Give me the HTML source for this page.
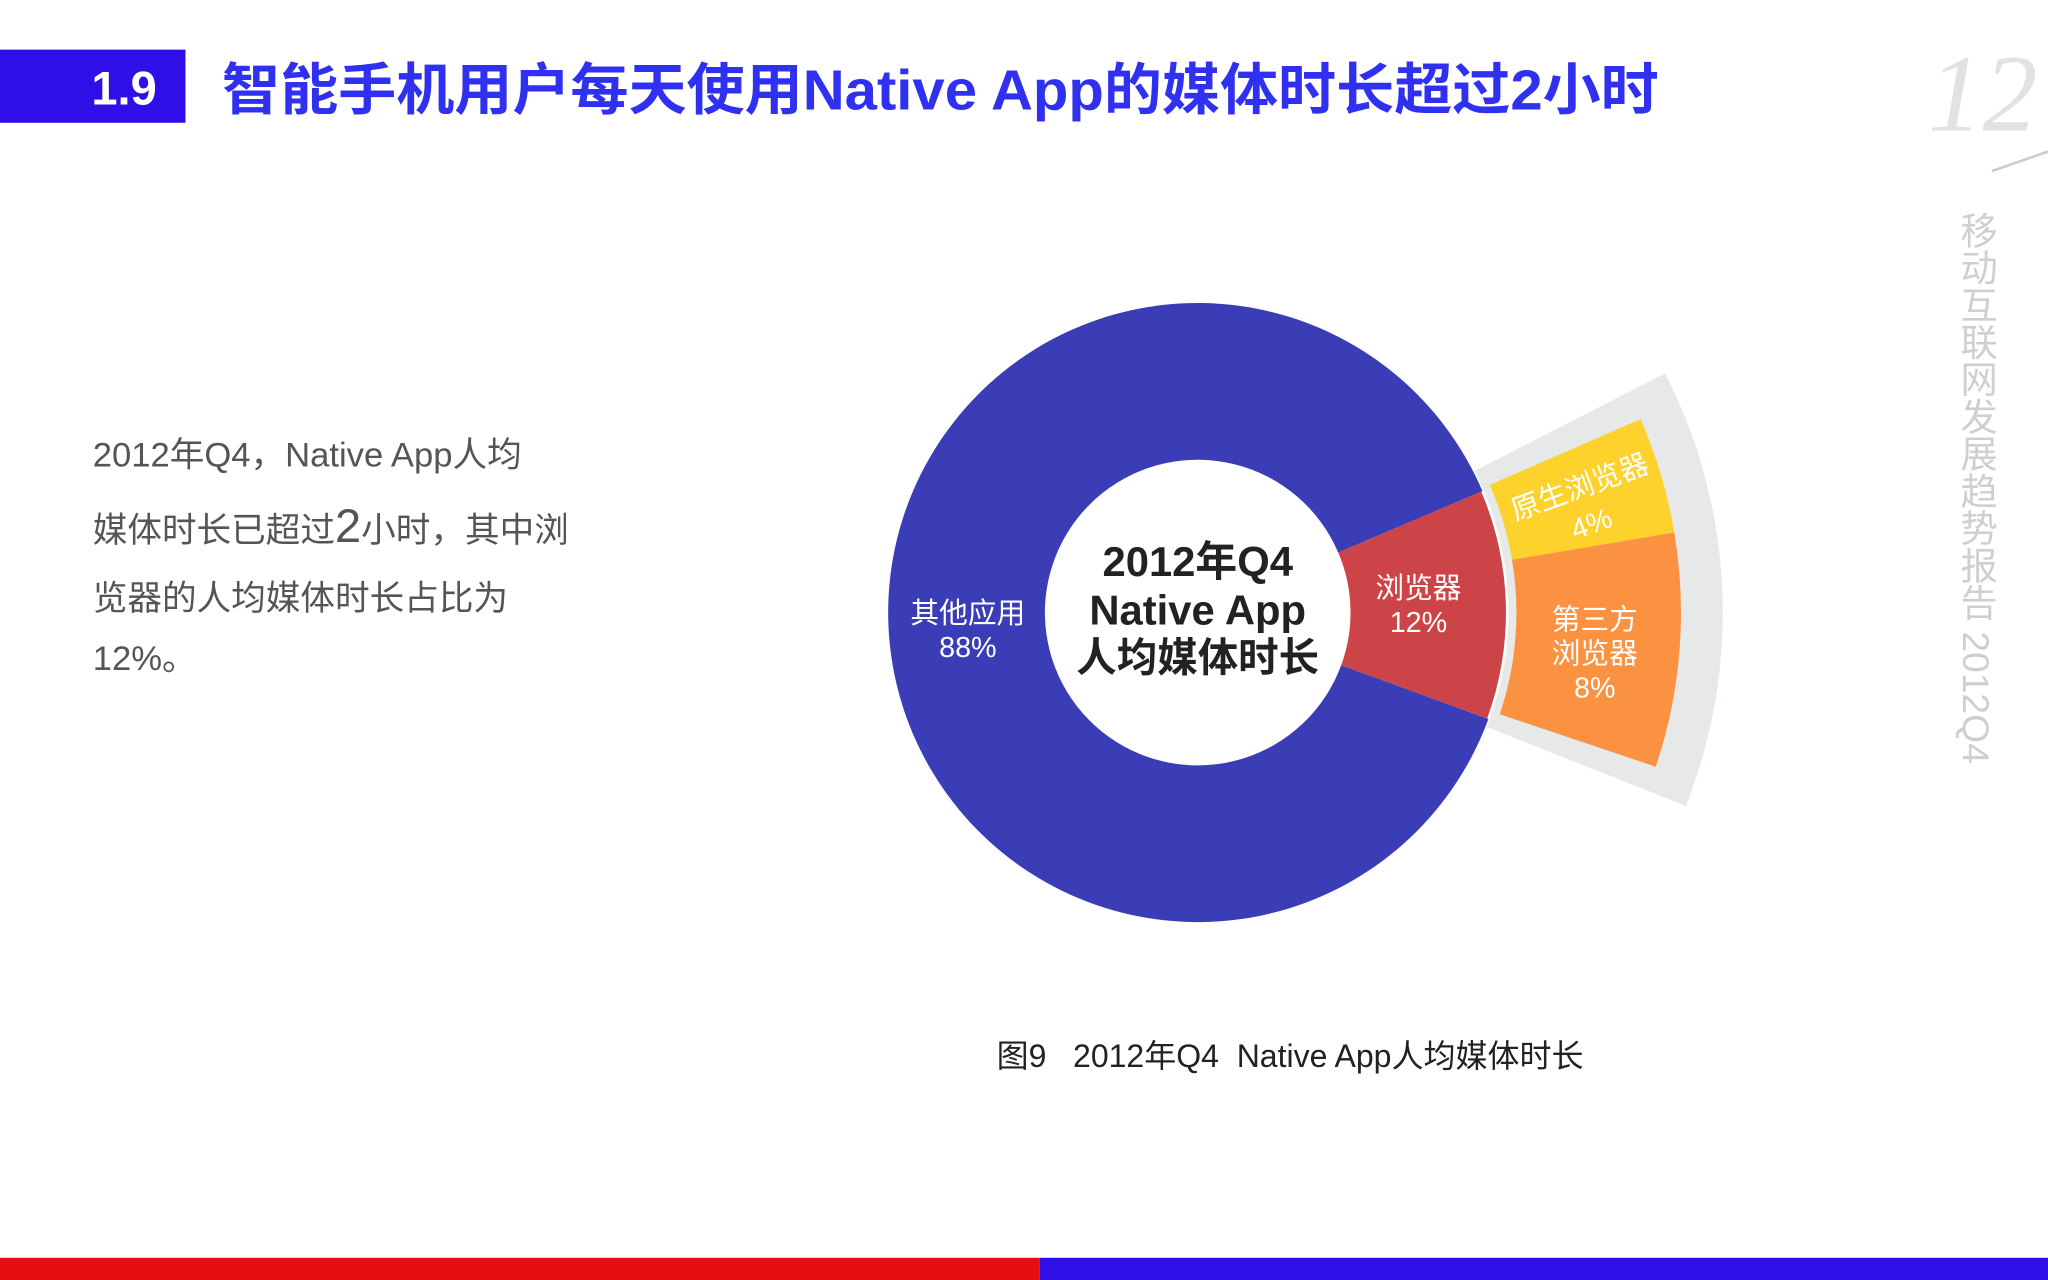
<!DOCTYPE html>
<html><head><meta charset="utf-8"><style>
html,body{margin:0;padding:0;background:#fff;}
svg{display:block;}
text{font-family:"Liberation Sans","Noto Sans CJK SC",sans-serif;}
</style></head><body>
<svg id="chart" width="2048" height="1280" viewBox="0 0 1568 980" xmlns="http://www.w3.org/2000/svg">
<rect x="0" y="0" width="1568" height="980" fill="#fff"/>
<rect x="0" y="38" width="142" height="56" fill="#2f0fe8"/>
<text x="95" y="80" font-size="36" font-weight="bold" fill="#fff" text-anchor="middle">1.9</text>
<text x="170" y="84" font-size="43" font-weight="bold" fill="#3030f0" textLength="1100" lengthAdjust="spacingAndGlyphs">智能手机用户每天使用Native App的媒体时长超过2小时</text>
<text x="1518" y="100" font-size="84" font-style="italic" fill="#e2e2e2" text-anchor="middle" style="font-family:'Liberation Serif',serif">12</text>
<line x1="1525" y1="131" x2="1568" y2="116" stroke="#ccc" stroke-width="2"/>
<text x="1513" y="162" font-size="28.5" fill="#cfcfcf" style="writing-mode:vertical-rl;glyph-orientation-vertical:0">移动互联网发展趋势报告 2012Q4</text>

<g fill="#555" font-size="26.5">
<text x="71" y="357">2012年Q4，Native App人均</text>
<text x="71" y="415">媒体时长已超过<tspan font-size="36">2</tspan>小时，其中浏</text>
<text x="71" y="467">览器的人均媒体时长占比为</text>
<text x="71" y="513">12%。</text>
</g>

<g id="donut"></g>

<text x="763" y="817" font-size="24.5" fill="#222" xml:space="preserve" style="white-space:pre">图9   2012年Q4  Native App人均媒体时长</text>

<rect x="0" y="963" width="796" height="17" fill="#e60f0f"/>
<rect x="796" y="963" width="772" height="17" fill="#2f0fe8"/>
</svg>
<script>
const mainCategories = ["其他应用", "浏览器"];
const mainValues = [88, 12];
const subCategories = ["原生浏览器", "第三方浏览器"];
const subValues = [4, 8];

const NS = "http://www.w3.org/2000/svg";
const g = document.getElementById("donut");
const cx = 917, cy = 469;
function pt(r, deg){ const a = deg*Math.PI/180; return [cx + r*Math.cos(a), cy - r*Math.sin(a)]; }
function arcPath(r0, r1, a0, a1){
  const large = (a1 - a0) > 180 ? 1 : 0;
  const p1 = pt(r1, a0), p2 = pt(r1, a1), p3 = pt(r0, a1), p4 = pt(r0, a0);
  return `M${p1[0]},${p1[1]} A${r1},${r1} 0 ${large} 0 ${p2[0]},${p2[1]} L${p3[0]},${p3[1]} A${r0},${r0} 0 ${large} 1 ${p4[0]},${p4[1]} Z`;
}
function addText(x, y, str, size, fill, weight, name, rot){
  const t = document.createElementNS(NS, "text");
  t.setAttribute("x", x); t.setAttribute("y", y);
  t.setAttribute("font-size", size); t.setAttribute("fill", fill);
  t.setAttribute("text-anchor", "middle");
  if (weight) t.setAttribute("font-weight", weight);
  if (rot) t.setAttribute("transform", `rotate(${rot} ${x} ${y})`);
  t.textContent = str;
  
  
  g.appendChild(t);
}
const total = mainValues.reduce((a,b)=>a+b,0);
const browserSpan = mainValues[1]/total*360;
const b0 = -browserSpan/2 + 1.5, b1 = browserSpan/2 + 1.5;

const bg = document.createElementNS(NS, "path");
bg.setAttribute("d", arcPath(238, 402, b0 - 1.5, b1 + 4));
bg.setAttribute("fill", "#e7e8e8");


g.appendChild(bg);

const mainColors = ["#3a3db5", "#cc4447"];
[0,1].forEach(i => {
  const span = mainValues[i]/total*360;
  let a0, a1;
  if (i === 0) { a0 = b1; a1 = b1 + span; } else { a0 = b0; a1 = b1; }
  const p = document.createElementNS(NS, "path");
  p.setAttribute("d", arcPath(117, i===0?237:236, a0, a1));
  p.setAttribute("fill", mainColors[i]);
  
  
  g.appendChild(p);
});

const subTotal = subValues.reduce((a,b)=>a+b,0);
const subColors = ["#fdd22c", "#fa9241"];
let s = b1 + 0.5;
const subSpanTotal = browserSpan - 1;
subValues.forEach((v, i) => {
  const span = v/subTotal*subSpanTotal;
  const p = document.createElementNS(NS, "path");
  p.setAttribute("d", arcPath(244, 370, s - span, s));
  p.setAttribute("fill", subColors[i]);
  
  
  g.appendChild(p);
  s -= span;
});

addText(741, 477, mainCategories[0], 22, "#fff", null, "label-other-apps");
addText(741, 503, mainValues[0] + "%", 22, "#fff", null, "value-other-apps");
addText(1086, 458, mainCategories[1], 22, "#fff", null, "label-browser");
addText(1086, 484, mainValues[1] + "%", 22, "#fff", null, "value-browser");
addText(1212, 380, subCategories[0], 22, "#fff", null, "label-native-browser", -20);
addText(1221, 408, subValues[0] + "%", 22, "#fff", null, "value-native-browser", -20);
addText(1221, 482, "第三方", 22, "#fff", null, "label-third-party-line1");
addText(1221, 508, "浏览器", 22, "#fff", null, "label-third-party-line2");
addText(1221, 534, subValues[1] + "%", 22, "#fff", null, "value-third-party-browser");
addText(917, 441, "2012年Q4", 32, "#222", "bold", "center-title-line1");
addText(917, 478, "Native App", 32, "#222", "bold", "center-title-line2");
addText(917, 514, "人均媒体时长", 31, "#222", "bold", "center-title-line3");
</script>
</body></html>
